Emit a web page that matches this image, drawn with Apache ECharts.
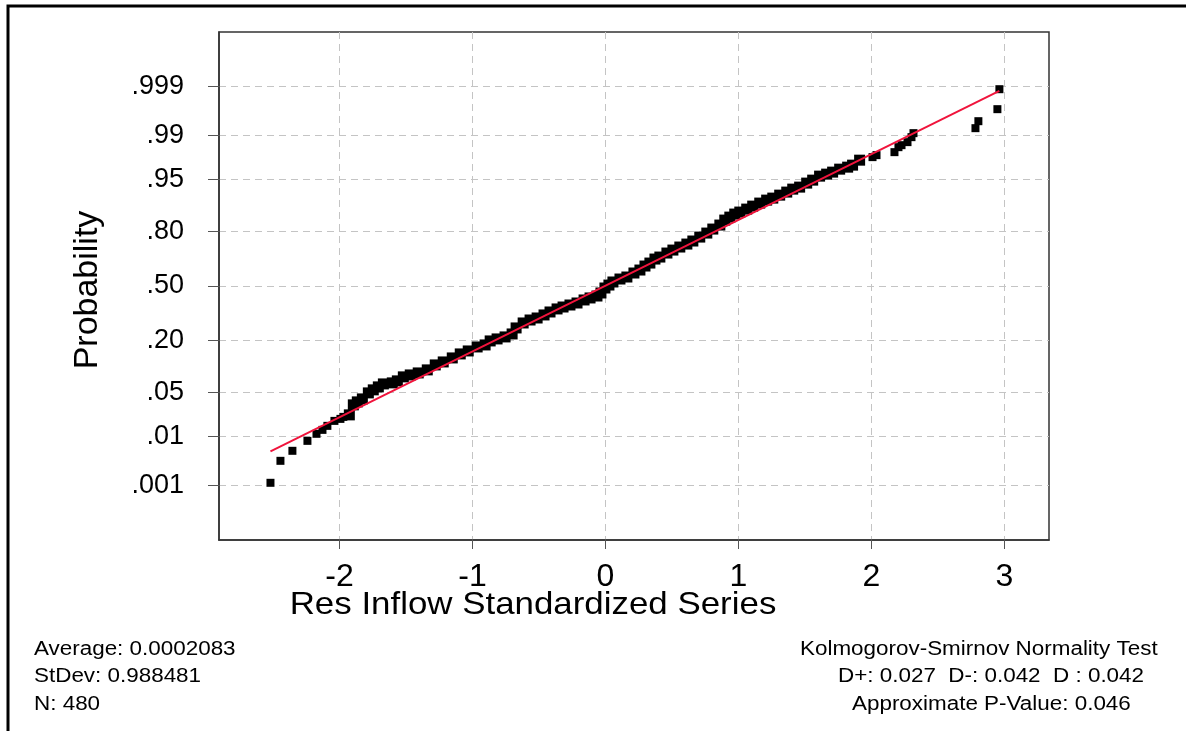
<!DOCTYPE html>
<html>
<head>
<meta charset="utf-8">
<script src="https://cdn.jsdelivr.net/npm/echarts@6/dist/echarts.min.js"></script>
<style>
html,body{margin:0;padding:0;background:#fff;}
#chart{width:1186px;height:731px;}
</style>
</head>
<body>
<div id="chart"></div>
<script>
// ---- data ----
const probTicks = [0.001, 0.01, 0.05, 0.20, 0.50, 0.80, 0.95, 0.99, 0.999];
const probLabels = ['.001', '.01', '.05', '.20', '.50', '.80', '.95', '.99', '.999'];
const xTicks = [-2, -1, 0, 1, 2, 3];
// [standardized residual, normal score]
const plotPoints = [
  [-2.519,-3.045],[-2.444,-2.705],[-2.354,-2.550],[-2.241,-2.396],[-2.173,-2.287],
  [-2.128,-2.226],[-2.091,-2.164],[-2.038,-2.087],[-1.993,-2.056],[-1.971,-2.025],
  [-1.926,-1.994],[-1.896,-1.839],[-1.866,-1.793],[-1.828,-1.747],[-1.783,-1.654],
  [-1.746,-1.607],[-1.708,-1.561],[-1.670,-1.515],[-1.603,-1.499],[-1.565,-1.468],
  [-1.520,-1.406],[-1.468,-1.376],[-1.408,-1.345],[-1.340,-1.298],[-1.280,-1.221],
  [-1.220,-1.175],[-1.152,-1.113],[-1.092,-1.051],[-1.032,-1.005],[-0.965,-0.943],
  [-0.905,-0.912],[-0.867,-0.850],[-0.815,-0.819],[-0.755,-0.788],[-0.702,-0.742],
  [-0.672,-0.649],[-0.619,-0.572],[-0.567,-0.526],[-0.514,-0.495],[-0.462,-0.448],
  [-0.417,-0.402],[-0.364,-0.355],[-0.319,-0.325],[-0.267,-0.294],[-0.214,-0.263],
  [-0.161,-0.216],[-0.116,-0.185],[-0.064,-0.155],[-0.034,-0.108],[-0.004,-0.031],
  [0.026,0.015],[0.056,0.062],[0.109,0.108],[0.161,0.139],[0.214,0.201],
  [0.259,0.247],[0.297,0.309],[0.334,0.355],[0.372,0.417],[0.409,0.448],
  [0.462,0.510],[0.507,0.556],[0.559,0.603],[0.612,0.649],[0.657,0.696],
  [0.709,0.757],[0.762,0.819],[0.807,0.881],[0.860,0.943],[0.897,1.020],
  [0.935,1.066],[0.972,1.113],[1.010,1.144],[1.062,1.190],[1.107,1.236],
  [1.160,1.283],[1.212,1.329],[1.258,1.360],[1.310,1.406],[1.363,1.453],
  [1.408,1.499],[1.460,1.530],[1.513,1.592],[1.558,1.638],[1.610,1.700],
  [1.663,1.731],[1.708,1.762],[1.761,1.808],[1.821,1.839],[1.858,1.870],
  [1.911,1.947],[2.008,1.994],[2.038,2.025],[2.173,2.071],[2.203,2.148],
  [2.226,2.179],[2.271,2.226],[2.301,2.303],[2.316,2.365],[2.782,2.442],
  [2.804,2.550],[2.947,2.736],[2.962,3.045]
];
const fitLine = [[-2.519,-2.56],[2.962,3.02]];
const statsLeft = ['Average: 0.0002083', 'StDev: 0.988481', 'N: 480'];
const statsRight = ['Kolmogorov-Smirnov Normality Test', 'D+: 0.027  D-: 0.042  D : 0.042', 'Approximate P-Value: 0.046'];

// normal probability scale (inverse normal CDF, Acklam)
function probit(p) {
  const a=[-3.969683028665376e+01,2.209460984245205e+02,-2.759285104469687e+02,1.383577518672690e+02,-3.066479806614716e+01,2.506628277459239e+00];
  const b=[-5.447609879822406e+01,1.615858368580409e+02,-1.556989798598866e+02,6.680131188771972e+01,-1.328068155288572e+01];
  const c=[-7.784894002430293e-03,-3.223964580411365e-01,-2.400758277161838e+00,-2.549732539343734e+00,4.374664141464968e+00,2.938163982698783e+00];
  const d=[7.784695709041462e-03,3.224671290700398e-01,2.445134137142996e+00,3.754408661907416e+00];
  const pl=0.02425, ph=1-pl;
  let q, r;
  if (p < pl) { q=Math.sqrt(-2*Math.log(p)); return (((((c[0]*q+c[1])*q+c[2])*q+c[3])*q+c[4])*q+c[5])/((((d[0]*q+d[1])*q+d[2])*q+d[3])*q+1); }
  if (p <= ph) { q=p-0.5; r=q*q; return (((((a[0]*r+a[1])*r+a[2])*r+a[3])*r+a[4])*r+a[5])*q/(((((b[0]*r+b[1])*r+b[2])*r+b[3])*r+b[4])*r+1); }
  q=Math.sqrt(-2*Math.log(1-p)); return -(((((c[0]*q+c[1])*q+c[2])*q+c[3])*q+c[4])*q+c[5])/((((d[0]*q+d[1])*q+d[2])*q+d[3])*q+1);
}
const zTicks = probTicks.map(probit);

const FONT = 'Liberation Sans, Arial, sans-serif';
const chart = echarts.init(document.getElementById('chart'), null, {renderer: 'canvas'});

const gridLine = {show: true, lineStyle: {color: '#c4c4c4', width: 1, type: [7, 5]}};

function textEl(txt, x, y, align, size, sx) {
  return {type: 'text', x: x, y: y, scaleX: sx, silent: true,
    style: {text: txt, x: 0, y: 0, textAlign: align, textVerticalAlign: 'middle',
      fontSize: size, fontFamily: FONT, fill: '#000'}};
}

const graphics = [
  {type: 'polyline', silent: true, shape: {points: [[8, 740], [8, 6], [1186, 6]]},
   style: {stroke: '#000', lineWidth: 3, fill: null}},
  textEl('Res Inflow Standardized Series', 533, 605, 'center', 32, 1.09),
  {type: 'text', x: 88, y: 290, rotation: Math.PI / 2, silent: true,
   style: {text: 'Probability', x: 0, y: 0, textAlign: 'center', textVerticalAlign: 'middle',
     fontSize: 34, fontFamily: FONT, fill: '#000'}}
];
const rowsY = [650, 677, 705];
statsLeft.forEach((t, i) => graphics.push(textEl(t, 34, rowsY[i], 'left', 19.5, 1.15)));
const rightX = [800, 838, 852];
statsRight.forEach((t, i) => graphics.push(textEl(t, rightX[i], rowsY[i], 'left', 19.5, 1.15)));

chart.setOption({
  animation: false,
  backgroundColor: '#fff',
  grid: {left: 219, top: 32, width: 830, height: 508, show: true,
    borderColor: '#333', borderWidth: 1.5, backgroundColor: 'transparent'},
  xAxis: {
    type: 'value', min: -2.906, max: 3.335,
    axisLine: {show: true, onZero: false, lineStyle: {color: '#333', width: 1.5}},
    axisTick: {show: true, customValues: xTicks, length: 9, lineStyle: {color: '#555'}},
    axisLabel: {customValues: xTicks, margin: 21, fontSize: 32, fontFamily: FONT, color: '#000',
      formatter: v => String(Math.round(v))},
    splitLine: gridLine
  },
  yAxis: {
    type: 'value', min: -3.93, max: 3.93,
    axisLine: {show: true, onZero: false, lineStyle: {color: '#333', width: 1.5}},
    axisTick: {show: true, customValues: zTicks, length: 11, lineStyle: {color: '#555'}},
    axisLabel: {customValues: zTicks, margin: 35, fontSize: 27, fontFamily: FONT, color: '#000',
      formatter: v => {
        let best = 0;
        zTicks.forEach((z, i) => { if (Math.abs(z - v) < Math.abs(zTicks[best] - v)) best = i; });
        return probLabels[best];
      }},
    splitLine: gridLine
  },
  series: [
    {type: 'scatter', data: plotPoints, symbol: 'rect',
     symbolSize: (val) => (val[0] > -1.94 && val[0] < 1.96) ? 11 : 8,
     itemStyle: {color: '#000', opacity: 1}, z: 2},
    {type: 'line', data: fitLine, symbol: 'none', lineStyle: {color: '#f0143c', width: 2}, z: 3}
  ],
  graphic: graphics
});
</script>
</body>
</html>
